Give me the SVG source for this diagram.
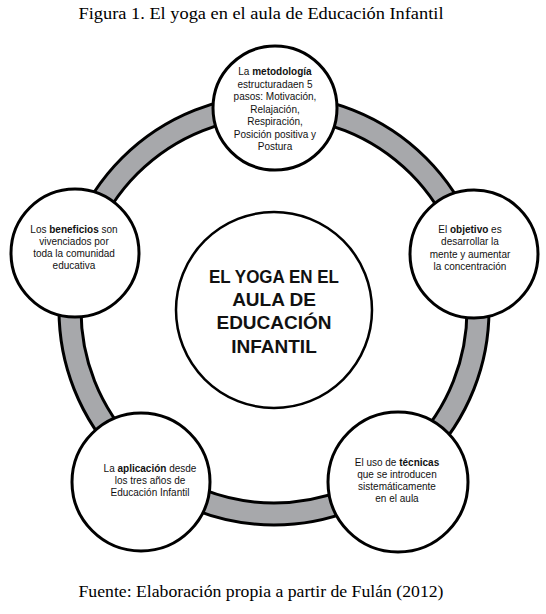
<svg xmlns="http://www.w3.org/2000/svg" width="546" height="614" viewBox="0 0 546 614">
<style>
.cap{font-family:"Liberation Serif",serif;font-size:16px;fill:#000}
.n{fill:#fff;stroke:#000;stroke-width:3}
.t{font-family:"Liberation Sans",Arial,sans-serif;font-size:10px;fill:#111;text-anchor:middle}
.b{font-weight:bold}
.c{font-family:"Liberation Sans",Arial,sans-serif;font-size:19px;font-weight:bold;fill:#111;text-anchor:middle}
</style>
<rect width="546" height="614" fill="#fff"/>
<text class="cap" x="261" y="19" text-anchor="middle" textLength="365" lengthAdjust="spacingAndGlyphs">Figura 1. El yoga en el aula de Educación Infantil</text>
<g id="connectors">
<path d="M274,95 A215,215 0 1 1 274,525 A215,215 0 1 1 274,95 Z M274,117 A193,193 0 1 0 274,503 A193,193 0 1 0 274,117 Z" fill="#a7a8ab" stroke="#000" stroke-width="3" fill-rule="evenodd"/>
</g>
<g id="center">
<circle cx="274" cy="310" r="98" fill="#fff" stroke="#000" stroke-width="2.5"/>
<text class="c" x="274" y="283" textLength="130" lengthAdjust="spacingAndGlyphs">EL YOGA EN EL</text>
<text class="c" x="274" y="306">AULA DE</text>
<text class="c" x="274" y="329">EDUCACIÓN</text>
<text class="c" x="274" y="353">INFANTIL</text>
</g>
<g id="n-top">
<circle class="n" cx="275" cy="108" r="62"/>
<text class="t" x="275" y="75">La <tspan class="b">metodología</tspan></text>
<text class="t" x="275" y="87.5">estructuradaen 5</text>
<text class="t" x="275" y="100">pasos: Motivación,</text>
<text class="t" x="275" y="113">Relajación,</text>
<text class="t" x="275" y="125">Respiración,</text>
<text class="t" x="275" y="137.5">Posición positiva y</text>
<text class="t" x="275" y="150">Postura</text>
</g>
<g id="n-left">
<circle class="n" cx="75" cy="253" r="64"/>
<text class="t" x="74" y="233">Los <tspan class="b">beneficios</tspan> son</text>
<text class="t" x="74" y="245">vivenciados por</text>
<text class="t" x="74" y="257">toda la comunidad</text>
<text class="t" x="74" y="269">educativa</text>
</g>
<g id="n-right">
<circle class="n" cx="474" cy="254" r="64"/>
<text class="t" x="470" y="233">El <tspan class="b">objetivo</tspan> es</text>
<text class="t" x="470" y="245">desarrollar la</text>
<text class="t" x="470" y="257.5">mente y aumentar</text>
<text class="t" x="470" y="270">la concentración</text>
</g>
<g id="n-bl">
<circle class="n" cx="141" cy="482" r="69"/>
<text class="t" x="150" y="472">La <tspan class="b">aplicación</tspan> desde</text>
<text class="t" x="150" y="484">los tres años de</text>
<text class="t" x="150" y="496">Educación Infantil</text>
</g>
<g id="n-br">
<circle class="n" cx="398" cy="482" r="70"/>
<text class="t" x="397" y="466">El uso de <tspan class="b">técnicas</tspan></text>
<text class="t" x="397" y="478">que se introducen</text>
<text class="t" x="397" y="490">sistemáticamente</text>
<text class="t" x="397" y="502">en el aula</text>
</g>
<text class="cap" x="261" y="597" text-anchor="middle" textLength="365" lengthAdjust="spacingAndGlyphs">Fuente: Elaboración propia a partir de Fulán (2012)</text>
</svg>
